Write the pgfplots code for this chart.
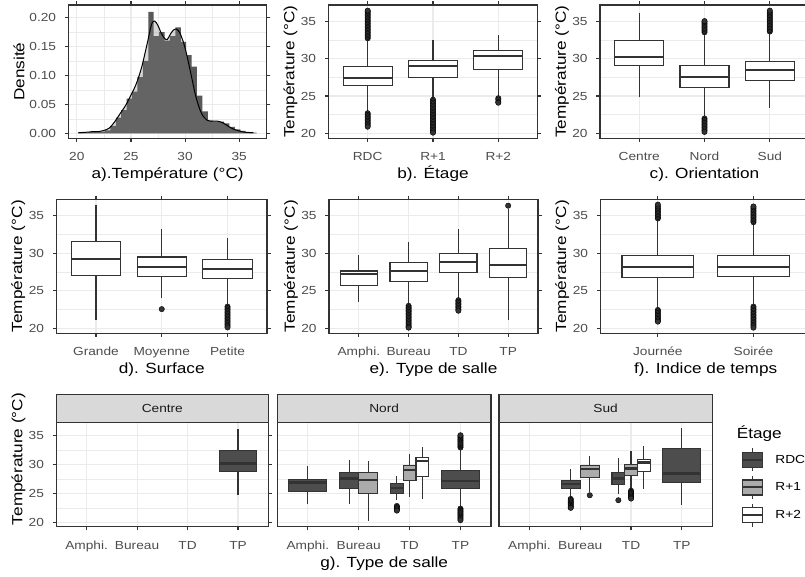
\documentclass[border=0pt]{standalone}
\usepackage{fontspec}
\setmainfont{Liberation Sans}[FakeStretch=1.17]
\usepackage{pgfplots}
\pgfplotsset{compat=1.18}
\definecolor{g10}{HTML}{1A1A1A}
\definecolor{g20}{HTML}{333333}
\definecolor{g30}{HTML}{4D4D4D}
\definecolor{g92}{HTML}{EBEBEB}
\definecolor{g85}{HTML}{D9D9D9}
\definecolor{histc}{HTML}{595959}
\definecolor{rdc}{HTML}{4D4D4D}
\definecolor{rone}{HTML}{ABABAB}
\newcommand{\tf}{\fontsize{11.7}{12}\selectfont}
\newcommand{\Tf}{\fontsize{14.7}{16}\selectfont}
\pgfplotsset{
  gg/.style={
    scale only axis,
    axis background/.style={fill=white},
    axis line style={g20, line width=1.1pt},
    tick align=outside,
    major tick length=3.7pt,
    minor tick length=0pt,
    tick style={g20, line width=1.1pt},
    tick label style={font=\tf, text=g30, inner sep=0pt},
    xticklabel style={anchor=base, yshift=-19pt},
    yticklabel style={anchor=east, xshift=-8.5pt},
    xlabel style={font=\Tf, at={(axis description cs:0.5,0)}, anchor=base, yshift=-40.5pt},
    ylabel style={font=\Tf, anchor=base},
    major grid style={g92, line width=1.1pt},
    minor grid style={g92, line width=0.55pt},
    /pgf/number format/assume math mode=true,
  },
  ggbox/.style={gg, ymin=19.35, ymax=37.15, ytick={20,25,30,35}, minor y tick num=1,
    ymajorgrids, yminorgrids, xmajorgrids, ylabel={Température (°C)},
    ylabel style={at={(axis description cs:-0.163,0.5)}}},
  out/.style={only marks, mark=*, mark size=2.7pt, mark options={draw=none, fill=g20}},
}
% #1 fill, #2 position, #3 half width, #4 lower whisker, #5 Q1, #6 median, #7 Q3, #8 upper whisker
\newcommand{\bp}[8][white]{%
  \pgfmathsetmacro\xl{#2-#3}\pgfmathsetmacro\xr{#2+#3}%
  \addplot[g20, line width=1.1pt] coordinates {(#2,#4)(#2,#5)};
  \addplot[g20, line width=1.1pt] coordinates {(#2,#7)(#2,#8)};
  \addplot[draw=g20, line width=1.1pt, fill=#1] coordinates {(\xl,#5)(\xr,#5)(\xr,#7)(\xl,#7)} -- cycle;
  \addplot[g20, line width=2.2pt] coordinates {(\xl,#6)(\xr,#6)};
}
\newcommand{\ol}[1]{\addplot[out] coordinates {#1};}
\newcommand{\strip}[1]{\draw[g20, line width=1.1pt, fill=g85] (rel axis cs:0,1) rectangle (rel axis cs:1,1.273);
  \node[font=\tf, text=g10] at (rel axis cs:0.5,1.1365) {#1};}
\begin{document}
\begin{tikzpicture}
\useasboundingbox (0,0) rectangle (805pt,577pt);
% ---------- a
\begin{axis}[gg, at={(68.5pt,438.7pt)}, anchor=south west, width=198.2pt, height=133.3pt,
  xmin=19.23, xmax=37.54, ymin=-0.0086, ymax=0.2217,
  xtick={20,25,30,35}, ytick={0,0.05,0.1,0.15,0.2}, minor x tick num=1, minor y tick num=1, grid=both,
  yticklabel style={/pgf/number format/fixed, /pgf/number format/fixed zerofill, /pgf/number format/precision=2},
  xlabel={a).Température (°C)}, ylabel={Densité},
  ylabel style={at={(axis description cs:-0.222,0.5)}}]
\addplot[ybar interval, fill=histc, draw=none] coordinates {
(20.1,0.001)(20.6,0.001)(21.1,0.002)(21.6,0.002)(22.1,0.003)(22.6,0.005)(23.1,0.013)(23.6,0.027)
(24.1,0.040)(24.6,0.060)(25.1,0.072)(25.6,0.097)(26.1,0.125)(26.6,0.210)(27.1,0.168)(27.6,0.175)
(28.1,0.160)(28.6,0.168)(29.1,0.183)(29.6,0.158)(30.1,0.135)(30.6,0.115)(31.1,0.065)(31.6,0.038)
(32.1,0.022)(32.6,0.020)(33.1,0.020)(33.6,0.017)(34.1,0.011)(34.6,0.007)(35.1,0.004)(35.6,0.002)
(36.1,0.001)(36.6,0)};
\addplot[draw=none, fill=gray, fill opacity=0.3] coordinates {
(20.15,0.001)(21,0.002)(21.5,0.003)(22,0.003)(22.5,0.005)(23,0.009)(23.5,0.02)(24,0.034)(24.5,0.048)
(25,0.066)(25.5,0.086)(26,0.115)(26.5,0.155)(26.9,0.188)(27.2,0.194)(27.5,0.186)(27.8,0.173)(28.1,0.164)
(28.35,0.162)(28.6,0.17)(28.9,0.178)(29.2,0.18)(29.5,0.174)(29.8,0.16)(30.1,0.14)(30.5,0.106)(31,0.063)
(31.5,0.035)(32,0.023)(32.5,0.021)(33,0.021)(33.5,0.018)(34,0.012)(34.5,0.007)(35,0.004)(35.5,0.002)(36.3,0.001)} \closedcycle;
\addplot[black, line width=1pt, smooth] coordinates {
(20.15,0.001)(21,0.002)(21.5,0.003)(22,0.003)(22.5,0.005)(23,0.009)(23.5,0.02)(24,0.034)(24.5,0.048)
(25,0.066)(25.5,0.086)(26,0.115)(26.5,0.155)(26.9,0.188)(27.2,0.194)(27.5,0.186)(27.8,0.173)(28.1,0.164)
(28.35,0.162)(28.6,0.17)(28.9,0.178)(29.2,0.18)(29.5,0.174)(29.8,0.16)(30.1,0.14)(30.5,0.106)(31,0.063)
(31.5,0.035)(32,0.023)(32.5,0.021)(33,0.021)(33.5,0.018)(34,0.012)(34.5,0.007)(35,0.004)(35.5,0.002)(36.3,0.001)};
\end{axis}
% ---------- b
\begin{axis}[ggbox, at={(328.5pt,438.7pt)}, anchor=south west, width=209pt, height=133.3pt,
  xmin=0.4, xmax=3.6, xtick={1,2,3}, xticklabels={RDC,R+1,R+2}, xlabel={b). Étage}]
\bp{1}{0.375}{22.85}{26.43}{27.39}{28.88}{32.56}
\bp{2}{0.375}{24.6}{27.52}{28.96}{29.75}{32.47}
\bp{3}{0.375}{25.0}{28.57}{30.37}{31.06}{33.2}
\ol{(1,32.7)(1,32.9)(1,33.1)(1,33.3)(1,33.5)(1,33.7)(1,33.9)(1,34.1)(1,34.3)(1,34.5)(1,34.7)(1,34.9)(1,35.1)(1,35.3)(1,35.5)(1,35.7)(1,35.9)(1,36.1)(1,36.3)(1,36.4)}
\ol{(1,22.7)(1,22.5)(1,22.3)(1,22.1)(1,21.9)(1,21.7)(1,21.5)(1,21.3)(1,21.1)(1,20.9)}
\ol{(2,24.5)(2,24.3)(2,24.1)(2,23.9)(2,23.7)(2,23.5)(2,23.3)(2,23.1)(2,22.9)(2,22.7)(2,22.5)(2,22.3)(2,22.1)(2,21.9)(2,21.7)(2,21.5)(2,21.3)(2,21.1)(2,20.9)(2,20.7)(2,20.5)(2,20.3)(2,20.1)}
\ol{(3,24.7)(3,24.5)(3,24.2)(3,24.1)}
\end{axis}
% ---------- c
\begin{axis}[ggbox, at={(600pt,438.7pt)}, anchor=south west, width=209pt, height=133.3pt,
  xmin=0.4, xmax=3.6, xtick={1,2,3}, xticklabels={Centre,Nord,Sud}, xlabel={c). Orientation}]
\bp{1}{0.375}{24.82}{29.02}{30.2}{32.38}{36.1}
\bp{2}{0.375}{22.19}{26.13}{27.57}{29.02}{33.35}
\bp{3}{0.375}{23.37}{27.09}{28.49}{29.62}{33.48}
\ol{(2,33.5)(2,33.7)(2,33.9)(2,34.1)(2,34.3)(2,34.5)(2,34.7)(2,34.9)(2,35.0)}
\ol{(2,22.0)(2,21.8)(2,21.6)(2,21.4)(2,21.2)(2,21.0)(2,20.8)(2,20.6)(2,20.4)(2,20.2)}
\ol{(3,33.6)(3,33.8)(3,34.0)(3,34.2)(3,34.4)(3,34.6)(3,34.8)(3,35.0)(3,35.2)(3,35.4)(3,35.6)(3,35.8)(3,36.0)(3,36.2)(3,36.4)}
\end{axis}
% ---------- d
\begin{axis}[ggbox, at={(56.5pt,243.7pt)}, anchor=south west, width=210.5pt, height=134pt,
  xmin=0.4, xmax=3.6, xtick={1,2,3}, xticklabels={Grande,Moyenne,Petite}, xlabel={d). Surface}]
\bp{1}{0.375}{21.15}{27.06}{29.26}{31.6}{36.37}
\bp{2}{0.375}{24.1}{26.88}{28.2}{29.48}{33.23}
\bp{3}{0.375}{23.0}{26.62}{27.85}{29.18}{32.0}
\ol{(2,22.56)}
\ol{(3,22.9)(3,22.7)(3,22.5)(3,22.3)(3,22.1)(3,21.9)(3,21.7)(3,21.5)(3,21.3)(3,21.1)(3,20.9)(3,20.7)(3,20.5)(3,20.3)(3,20.13)}
\end{axis}
% ---------- e
\begin{axis}[ggbox, at={(329pt,243.7pt)}, anchor=south west, width=209pt, height=134pt,
  xmin=0.4, xmax=4.6, xtick={1,2,3,4}, xticklabels={Amphi.,Bureau,TD,TP}, xlabel={e). Type de salle}]
\bp{1}{0.375}{23.53}{25.65}{27.19}{27.63}{29.7}
\bp{2}{0.375}{23.09}{26.26}{27.63}{28.73}{31.47}
\bp{3}{0.375}{23.88}{27.37}{28.87}{29.97}{33.23}
\bp{4}{0.375}{21.15}{26.75}{28.38}{30.59}{35.8}
\ol{(2,23.0)(2,22.8)(2,22.6)(2,22.4)(2,22.2)(2,22.0)(2,21.8)(2,21.6)(2,21.4)(2,21.2)(2,21.0)(2,20.8)(2,20.6)(2,20.4)(2,20.2)(2,20.1)}
\ol{(3,23.75)(3,23.55)(3,23.35)(3,23.15)(3,22.95)(3,22.75)(3,22.55)(3,22.35)}
\ol{(4,36.3)}
\end{axis}
% ---------- f
\begin{axis}[ggbox, at={(600.5pt,243.7pt)}, anchor=south west, width=210.3pt, height=134pt,
  xmin=0.4, xmax=2.6, xtick={1,2}, xticklabels={Journée,Soirée}, xlabel={f). Indice de temps}]
\bp{1}{0.375}{22.56}{26.75}{28.2}{29.66}{34.56}
\bp{2}{0.375}{23.0}{26.88}{28.2}{29.66}{34.0}
\ol{(1,34.6)(1,34.8)(1,35.0)(1,35.2)(1,35.4)(1,35.6)(1,35.8)(1,36.0)(1,36.2)(1,36.45)}
\ol{(1,22.45)(1,22.25)(1,22.05)(1,21.85)(1,21.65)(1,21.45)(1,21.25)(1,21.05)(1,20.9)}
\ol{(2,34.1)(2,34.3)(2,34.5)(2,34.7)(2,34.9)(2,35.1)(2,35.3)(2,35.5)(2,35.7)(2,35.9)(2,36.1)(2,36.2)}
\ol{(2,22.9)(2,22.7)(2,22.5)(2,22.3)(2,22.1)(2,21.9)(2,21.7)(2,21.5)(2,21.3)(2,21.1)(2,20.9)(2,20.7)(2,20.5)(2,20.3)(2,20.1)}
\end{axis}
% ---------- g Centre
\begin{axis}[ggbox, clip=false, at={(56.3pt,50.3pt)}, anchor=south west, width=212pt, height=104pt,
  xmin=0.4, xmax=4.6, xtick={1,2,3,4}, xticklabels={Amphi.,Bureau,TD,TP},
  ylabel style={at={(axis description cs:-0.160,0.65)}}]
\bp[rdc]{4}{0.375}{24.85}{28.84}{30.15}{32.44}{36.14}
\strip{Centre}
\end{axis}
% ---------- g Nord
\begin{axis}[ggbox, clip=false, at={(277.3pt,50.3pt)}, anchor=south west, width=213.7pt, height=104pt,
  xmin=0.4, xmax=4.6, xtick={1,2,3,4}, xticklabels={Amphi.,Bureau,TD,TP}, ylabel={}, yticklabels={},
  every major y tick/.append style={draw=none}, xlabel={g). Type de salle}]
\bp[rdc]{1}{0.375}{23.25}{25.42}{26.9}{27.47}{29.7}
\bp[rdc]{1.8125}{0.1875}{23.25}{25.88}{27.59}{28.61}{30.72}
\bp[rone]{2.1875}{0.1875}{20.29}{25.02}{27.3}{28.61}{30.55}
\bp[rdc]{2.75}{0.125}{23.88}{25.02}{25.99}{26.67}{28.04}
\bp[rone]{3}{0.125}{24.45}{27.19}{29.01}{29.75}{31.87}
\bp[white]{3.25}{0.125}{24.16}{27.87}{30.55}{31.18}{33.0}
\bp[rdc]{4}{0.375}{22.74}{25.88}{27.19}{28.9}{32.83}
\ol{(2.75,22.9)(2.75,22.7)(2.75,22.5)(2.75,22.3)(2.75,22.1)}
\ol{(4,32.9)(4,33.1)(4,33.3)(4,33.5)(4,33.7)(4,33.9)(4,34.1)(4,34.3)(4,34.5)(4,34.7)(4,34.9)(4,35.0)}
\ol{(4,22.45)(4,22.25)(4,22.05)(4,21.85)(4,21.65)(4,21.45)(4,21.25)(4,21.05)(4,20.85)(4,20.65)(4,20.46)}
\strip{Nord}
\end{axis}
% ---------- g Sud
\begin{axis}[ggbox, clip=false, at={(499pt,50.3pt)}, anchor=south west, width=213.3pt, height=104pt,
  xmin=0.4, xmax=4.6, xtick={1,2,3,4}, xticklabels={Amphi.,Bureau,TD,TP}, ylabel={}, yticklabels={},
  every major y tick/.append style={draw=none},
  legend style={at={(axis description cs:1.138,0.377)}, anchor=west, draw=none, fill=none, inner sep=0pt,
    row sep=3.7pt, column sep=11.5pt, font=\tf, nodes={inner sep=0pt, text=black}},
  legend cell align=left]
\addlegendimage{legend image code/.code={\draw[g20,line width=1.1pt] (10pt,-11.5pt)--(10pt,11.5pt); \draw[g20,line width=1.1pt,fill=rdc] (0pt,-7.5pt) rectangle (20pt,7.5pt); \draw[g20,line width=2pt] (0pt,0pt)--(20pt,0pt);}}
\addlegendentry{RDC}
\addlegendimage{legend image code/.code={\draw[g20,line width=1.1pt] (10pt,-11.5pt)--(10pt,11.5pt); \draw[g20,line width=1.1pt,fill=rone] (0pt,-7.5pt) rectangle (20pt,7.5pt); \draw[g20,line width=2pt] (0pt,0pt)--(20pt,0pt);}}
\addlegendentry{R+1}
\addlegendimage{legend image code/.code={\draw[g20,line width=1.1pt] (10pt,-11.5pt)--(10pt,11.5pt); \draw[g20,line width=1.1pt,fill=white] (0pt,-7.5pt) rectangle (20pt,7.5pt); \draw[g20,line width=2pt] (0pt,0pt)--(20pt,0pt);}}
\addlegendentry{R+2}
\bp[rdc]{1.8125}{0.1875}{24.28}{25.88}{26.62}{27.19}{29.3}
\bp[rone]{2.1875}{0.1875}{25.3}{27.7}{29.18}{29.75}{31.41}
\bp[rdc]{2.75}{0.125}{25.02}{26.62}{27.59}{28.61}{31.12}
\bp[rone]{3}{0.125}{25.76}{28.04}{29.3}{29.98}{32.32}
\bp[white]{3.25}{0.125}{25.76}{28.84}{30.33}{30.9}{33.12}
\bp[rdc]{4}{0.375}{23.14}{26.85}{28.44}{32.72}{36.3}
\ol{(1.8125,24.1)(1.8125,23.9)(1.8125,23.7)(1.8125,23.5)(1.8125,23.3)(1.8125,23.1)(1.8125,22.9)(1.8125,22.7)(1.8125,22.57)}
\ol{(2.1875,24.73)}
\ol{(2.75,23.88)}
\ol{(3,25.5)(3,25.3)(3,25.1)(3,24.9)(3,24.7)(3,24.5)(3,24.3)(3,24.16)}
\strip{Sud}
\node[anchor=base west, font=\Tf, inner sep=0pt] at (rel axis cs:1.114,0.85) {Étage};
\end{axis}
\end{tikzpicture}
\end{document}
